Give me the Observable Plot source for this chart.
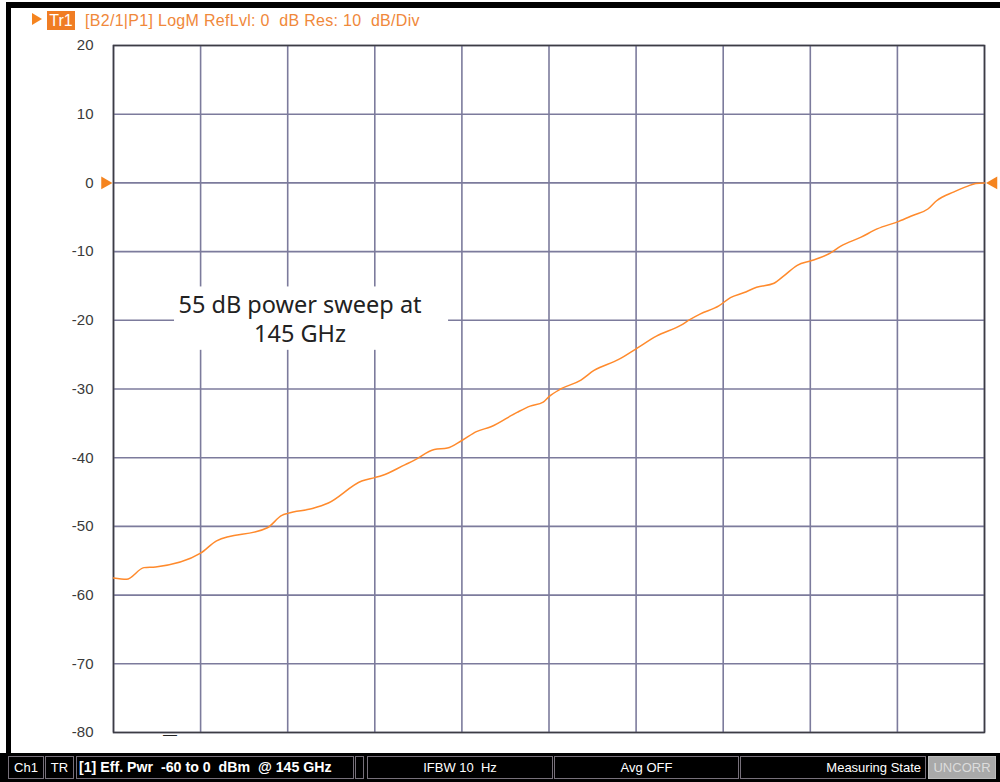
<!DOCTYPE html>
<html><head><meta charset="utf-8">
<script src="https://cdn.jsdelivr.net/npm/d3@7"></script>
<script src="https://cdn.jsdelivr.net/npm/@observablehq/plot@0.6"></script>
<style>
body{margin:0;background:#fff;}
#page{position:relative;width:1000px;height:782px;overflow:hidden;background:#fff;font-family:"Liberation Sans",Arial,sans-serif;}
#chart{position:absolute;left:0;top:0;}
#topbar{position:absolute;left:6px;top:2px;width:994px;height:6px;background:#000;}
#leftbar{position:absolute;left:6px;top:2px;width:5px;height:760px;background:#000;}
#hdr{position:absolute;left:32px;top:10px;height:20px;white-space:pre;font-size:16px;color:#f0883a;}
#hdr .tri{position:absolute;left:0;top:3px;width:0;height:0;border-top:6px solid transparent;border-bottom:6px solid transparent;border-left:10px solid #f5841f;}
#hdr .tr{position:absolute;left:15px;top:1px;width:28px;height:19px;background:#f07d24;color:#fff;text-align:center;line-height:19px;}
#hdr .txt{position:absolute;left:53px;top:1px;line-height:19px;letter-spacing:0.3px;}
#status{position:absolute;left:0;top:753px;width:1000px;height:29px;background:#000;}
.box{position:absolute;top:3px;border:1px solid #77707a;color:#fff;font-size:13px;line-height:21px;white-space:pre;box-sizing:border-box;height:23px;}
</style></head><body>
<div id="page">
  <div id="chart"></div>
  <div id="topbar"></div><div id="leftbar"></div>
  <div id="hdr"><div class="tri"></div><div class="tr" id="trName"></div><div class="txt" id="trInfo"></div></div>
  <div id="status"></div>
</div>
<script>
// ---- data ----
const powerDbm = [-60.0, -59.1, -57.9, -57.1, -54.0, -52.9, -49.4, -48.4, -48.0, -46.3, -45.2, -42.9, -42.0, -41.5, -39.9, -39.3, -37.9, -37.0, -36.0, -35.0, -34.0, -32.2, -31.3, -30.4, -30.0, -29.2, -27.8, -26.9, -25.2, -23.9, -22.6, -20.9, -20.3, -19.6, -18.3, -17.5, -16.6, -15.7, -14.5, -13.8, -12.9, -11.9, -10.6, -9.9, -8.5, -7.4, -5.9, -4.9, -3.9, -3.3, -2.1, -1.2, -0.6, 0.0];
const traceDb = [-57.5, -57.7, -56.0, -55.9, -53.9, -52.1, -50.2, -48.4, -48.1, -47.4, -46.6, -43.4, -42.9, -42.6, -41.0, -40.4, -38.8, -38.6, -37.5, -36.2, -35.5, -33.4, -32.5, -31.9, -31.1, -30.0, -28.7, -27.3, -25.7, -24.0, -22.3, -20.7, -19.9, -19.1, -17.9, -16.7, -16.0, -15.2, -14.6, -13.5, -12.0, -11.3, -10.2, -9.2, -7.9, -6.7, -5.6, -4.7, -3.8, -2.6, -1.3, -0.5, -0.1, 0.0];
const yTicks = [20, 10, 0, -10, -20, -30, -40, -50, -60, -70, -80];
const xGridDbm = [-60, -54, -48, -42, -36, -30, -24, -18, -12, -6, 0];
const sweepStart = -60, sweepStop = 0, refLevel = 0;
const noteText = ["55 dB power sweep at\n145 GHz"];
const noteX = [-47.15];
const noteY = [-19.7];
const stimMarkerX = [-56.1];
const traceName = "Tr1";
const traceInfo = "[B2/1|P1] LogM RefLvl: 0  dB Res: 10  dB/Div";
const statusLabels = ["Ch1", "TR", "[1] Eff. Pwr  -60 to 0  dBm  @ 145 GHz", "", "IFBW 10  Hz", "Avg OFF", "Measuring State", "UNCORR"];

// ---- header / status ----
document.getElementById("trName").textContent = traceName;
document.getElementById("trInfo").textContent = traceInfo;
const boxes = [
  {l: 8, w: 36, align: "center"},
  {l: 45, w: 29, align: "center"},
  {l: 76, w: 278, align: "left", bold: true},
  {l: 355, w: 9, align: "center"},
  {l: 367, w: 186, align: "center"},
  {l: 554, w: 185, align: "center"},
  {l: 740, w: 186, align: "right"},
  {l: 928, w: 68, align: "center", gray: true}
];
const st = document.getElementById("status");
boxes.forEach((b, i) => {
  const d = document.createElement("div");
  d.className = "box";
  d.style.left = b.l + "px"; d.style.width = b.w + "px"; d.style.textAlign = b.align;
  d.style.padding = b.align === "left" ? "0 0 0 2px" : b.align === "right" ? "0 4px 0 0" : "0";
  if (b.bold) { d.style.fontWeight = "bold"; d.style.fontSize = "14.2px"; }
  if (b.gray) { d.style.background = "#a9a9a9"; d.style.color = "#dcdcdc"; d.style.borderColor = "#bbb"; }
  d.textContent = statusLabels[i];
  st.appendChild(d);
});

// ---- chart ----
const trace = powerDbm.map((x, i) => ({x, y: traceDb[i]}));
const notes = noteText.map((t, i) => ({t, x: noteX[i], y: noteY[i]}));
const gridColor = "#7c7b9c";
const orange = "#ff8a2c";
const chart = Plot.plot({
  width: 1000, height: 752,
  marginTop: 45, marginBottom: 20, marginLeft: 113, marginRight: 16,
  x: {domain: [sweepStart, sweepStop], axis: null},
  y: {domain: [-80, 20], axis: null},
  style: {fontFamily: "'Liberation Sans', Arial, sans-serif", background: "transparent", overflow: "visible", color: "#333"},
  marks: [
    Plot.gridX(xGridDbm, {stroke: gridColor, strokeOpacity: 1, strokeWidth: 1.6}),
    Plot.gridY(yTicks, {stroke: gridColor, strokeOpacity: 1, strokeWidth: 1.6}),
    Plot.frame({stroke: "#3c3c44", strokeWidth: 1.6}),
    Plot.axisY(yTicks, {tickSize: 0, tickPadding: 20, fontSize: 15, label: null, fill: "#3a3a3a", tickFormat: d => String(d)}),
    Plot.line(trace, {x: "x", y: "y", stroke: orange, strokeWidth: 1.5, curve: "monotone-x"}),
    Plot.text(notes, {x: "x", y: "y", text: "t", fontSize: 23.5, lineHeight: 1.25, fill: "#222", fontFamily: "'Noto Sans', 'Open Sans', sans-serif", className: "note"}),
    Plot.dot([refLevel], {x: () => sweepStart, y: d => d, symbol: "triangle", r: 4.8, rotate: 90, fill: "#f5841f", stroke: "none", dx: -8.5}),
    Plot.dot([refLevel], {x: () => sweepStop, y: d => d, symbol: "triangle", r: 4.8, rotate: -90, fill: "#f5841f", stroke: "none", dx: 9}),
    Plot.text(stimMarkerX, {x: d => d, y: () => -80, text: () => "\u2014", fontSize: 14, dy: 2, fill: "#222"})
  ]
});
document.getElementById("chart").appendChild(chart);

// white box behind annotation
const ng = chart.querySelector("g.note") || [...chart.querySelectorAll("g")].find(g => g.getAttribute("class") && g.getAttribute("class").includes("note"));
if (ng) {
  const bb = ng.getBBox();
  const r = document.createElementNS("http://www.w3.org/2000/svg", "rect");
  r.setAttribute("x", bb.x - 4); r.setAttribute("y", bb.y - 1);
  r.setAttribute("width", bb.width + 31); r.setAttribute("height", bb.height + 2);
  r.setAttribute("fill", "#fff");
  ng.parentNode.insertBefore(r, ng);
}
</script>
</body></html>
